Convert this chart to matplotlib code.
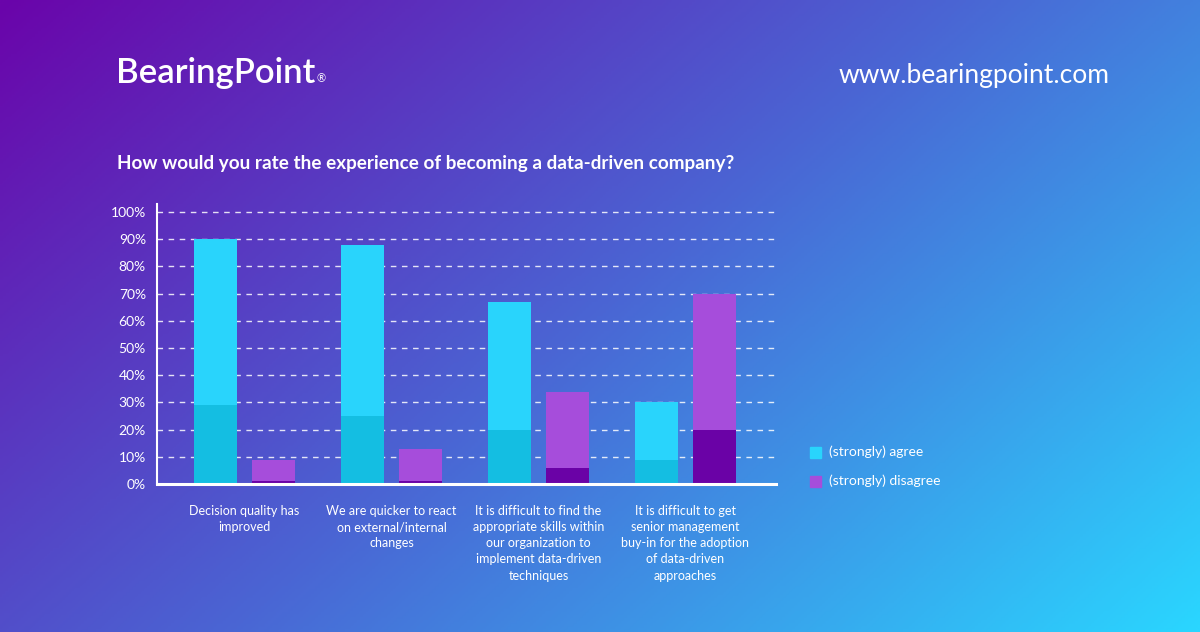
import matplotlib.pyplot as plt
import numpy as np
from matplotlib.colors import LinearSegmentedColormap
from matplotlib.patches import Rectangle

categories = [
    "Decision quality has\nimproved",
    "We are quicker to react\non external/internal\nchanges",
    "It is difficult to find the\nappropriate skills within\nour organization to\nimplement data-driven\ntechniques",
    "It is difficult to get\nsenior management\nbuy-in for the adoption\nof data-driven\napproaches",
]
agree_total = [90, 88, 67, 30]
agree_strong = [29, 25, 20, 9]
disagree_total = [9, 13, 34, 70]
disagree_strong = [1, 1, 6, 20]
yticks = [0, 10, 20, 30, 40, 50, 60, 70, 80, 90, 100]

C_AGREE = "#29D4FC"
C_AGREE_STRONG = "#14BEE2"
C_DIS = "#A64DDB"
C_DIS_STRONG = "#6A02A6"
FONT = "Lato"

W, H = 1200, 632
fig = plt.figure(figsize=(W / 100, H / 100), dpi=100)

# gradient background
bg = fig.add_axes([0, 0, 1, 1])
xx, yy = np.meshgrid(np.linspace(0, 1, 400), np.linspace(0, 1, 220))
t = 0.62 * xx + 0.38 * yy
cmap = LinearSegmentedColormap.from_list("bp", ["#6A04AA", "#4A66D4", "#2AD6FF"])
bg.imshow(t, cmap=cmap, aspect="auto", extent=[0, 1, 0, 1], origin="upper")
bg.set_axis_off()

# header
fig.text(116 / W, 1 - 73 / H, "BearingPoint", color="white", fontsize=25,
         fontfamily=FONT, fontweight="semibold", va="center", ha="left")
fig.text(321 / W, 1 - 79 / H, "®", color="white", fontsize=8,
         fontfamily=FONT, va="center", ha="center")
fig.text(1110 / W, 1 - 76 / H, "www.bearingpoint.com", color="white", fontsize=19,
         fontfamily=FONT, va="center", ha="right")
fig.text(117 / W, 1 - 163 / H,
         "How would you rate the experience of becoming a data-driven company?",
         color="white", fontsize=13.6, fontfamily=FONT, fontweight="bold",
         va="center", ha="left")

# chart
ax = fig.add_axes([157 / W, 1 - 484 / H, (776 - 157) / W, (484 - 203.8) / H])
ax.patch.set_alpha(0)
x = np.arange(len(categories))
bw = 0.2925
off = 0.197

ax.bar(x - off, agree_total, bw, color=C_AGREE, zorder=3)
ax.bar(x - off, agree_strong, bw, color=C_AGREE_STRONG, zorder=4)
ax.bar(x + off, disagree_total, bw, color=C_DIS, zorder=3)
ax.bar(x + off, disagree_strong, bw, color=C_DIS_STRONG, zorder=4)

ax.set_xlim(-0.595, 3.616)
ax.set_ylim(0, 103)
ax.set_yticks(yticks)
ax.set_yticklabels([f"{v}%" for v in yticks], color="white", fontsize=10, fontfamily=FONT)
ax.tick_params(axis="y", length=0, pad=8)
for v in yticks[1:]:
    ax.axhline(v, color="white", lw=1, ls=(0, (4, 4)), alpha=0.85, zorder=1)

ax.set_xticks(x)
ax.set_xticklabels(categories, color="white", fontsize=9, fontfamily=FONT,
                   linespacing=1.42, va="top")
ax.tick_params(axis="x", length=0, pad=15)

for s in ["top", "right"]:
    ax.spines[s].set_visible(False)
ax.spines["left"].set_color("white")
ax.spines["left"].set_linewidth(1.5)
ax.spines["bottom"].set_color("white")
ax.spines["bottom"].set_linewidth(2.2)
ax.spines["bottom"].set_zorder(5)

# legend
for yy_, col, lab in [(452, C_AGREE, "(strongly) agree"), (481, C_DIS, "(strongly) disagree")]:
    fig.patches.append(Rectangle((810 / W, 1 - (yy_ + 6) / H), 11 / W, 11 / H,
                                 transform=fig.transFigure, color=col))
    fig.text(829 / W, 1 - yy_ / H, lab, color="white", fontsize=10,
             fontfamily=FONT, va="center", ha="left")

fig.savefig("out.png", dpi=100)
